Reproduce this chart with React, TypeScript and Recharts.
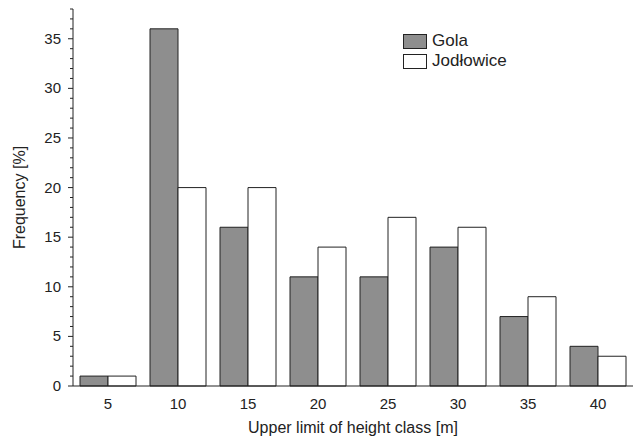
import React from 'react';
import { BarChart, Bar, XAxis, YAxis } from 'recharts';

const categories = ['5', '10', '15', '20', '25', '30', '35', '40'];
const golaValues = [1, 36, 16, 11, 11, 14, 7, 4];
const jodlowiceValues = [1, 20, 20, 14, 17, 16, 9, 3];
const yMajorTicks = [0, 5, 10, 15, 20, 25, 30, 35];
const yAllTicks = [0,1,2,3,4,5,6,7,8,9,10,11,12,13,14,15,16,17,18,19,20,21,22,23,24,25,26,27,28,29,30,31,32,33,34,35,36,37,38];
const seriesNames = ['Gola', 'Jodłowice'];

const data = categories.map((c, i) => ({ cls: c, Gola: golaValues[i], Jodlowice: jodlowiceValues[i] }));

const FONT = '"Liberation Sans", Arial, sans-serif';
const INK = '#222';
const GREY = '#8e8e8e';
const fills = [GREY, '#fff'];

const YTick = (props: any) => {
  const { x, y, payload } = props;
  const major = yMajorTicks.includes(payload.value);
  return (
    <g>
      <line x1={x - (major ? 5 : 3)} x2={x} y1={y} y2={y} stroke={INK} strokeWidth={1} />
      {major && (
        <text x={x - 12} y={y} dy={5} textAnchor="end" fontSize={15} fill={INK} fontFamily={FONT}>
          {payload.value}
        </text>
      )}
    </g>
  );
};

const LegendBox = () => (
  <div style={{ position: 'absolute', left: 403, top: 31, fontFamily: FONT, fontSize: 17, color: INK, lineHeight: '20px' }}>
    {seriesNames.map((name, i) => (
      <div key={name} style={{ display: 'flex', alignItems: 'center', height: 20 }}>
        <div style={{ width: 22, height: 13, background: fills[i], border: `1px solid ${INK}`, marginRight: 5 }} />
        <span>{name}</span>
      </div>
    ))}
  </div>
);

export default function App() {
  return (
    <div style={{ position: 'absolute', left: 0, top: 0, width: 633, height: 441, background: '#fff' }}>
      <BarChart
        width={633}
        height={441}
        data={data}
        margin={{ top: 9, right: 0, left: 0, bottom: 0 }}
        barCategoryGap="10%"
        barGap={0}
      >
        <XAxis
          dataKey="cls"
          height={55}
          tickLine={false}
          tickSize={0}
          tickMargin={12}
          axisLine={{ stroke: INK, strokeWidth: 1 }}
          tick={{ fontSize: 15, fill: INK, fontFamily: FONT }}
          label={{ value: 'Upper limit of height class [m]', position: 'insideBottom', offset: 8, fontSize: 16, fill: INK, fontFamily: FONT }}
        />
        <YAxis
          width={73}
          domain={[0, 38]}
          ticks={yAllTicks}
          interval={0}
          tickLine={false}
          tickSize={0}
          tickMargin={0}
          axisLine={{ stroke: INK, strokeWidth: 1 }}
          tick={<YTick />}
          label={{ value: 'Frequency [%]', angle: -90, position: 'center', dx: -17, fontSize: 16, fill: INK, fontFamily: FONT }}
        />
        <Bar dataKey="Gola" name={seriesNames[0]} fill={fills[0]} stroke={INK} strokeWidth={1} isAnimationActive={false} />
        <Bar dataKey="Jodlowice" name={seriesNames[1]} fill={fills[1]} stroke={INK} strokeWidth={1} isAnimationActive={false} />
      </BarChart>
      <LegendBox />
    </div>
  );
}
